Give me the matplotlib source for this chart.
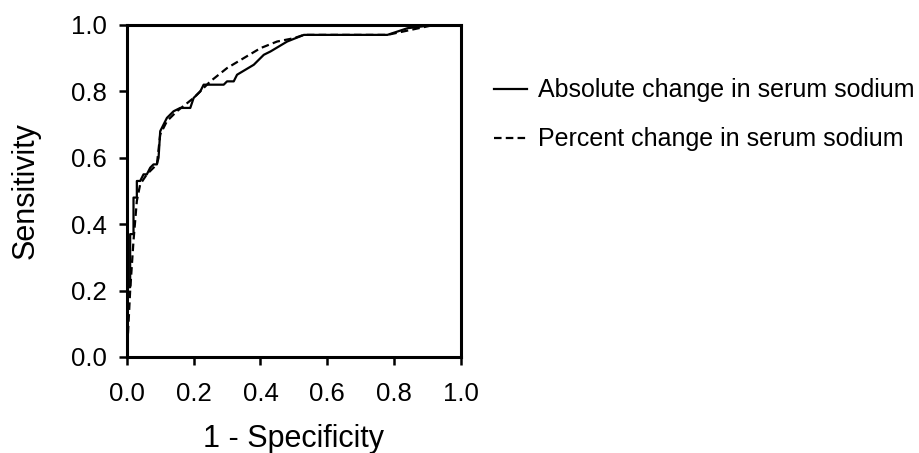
import matplotlib.pyplot as plt

plt.rcParams['font.family'] = ['Liberation Sans', 'DejaVu Sans']

# ROC curves
absFpr = [0.0, 0.0, 0.01, 0.01, 0.02, 0.02, 0.03, 0.03, 0.04, 0.045, 0.05, 0.06, 0.07, 0.08,
          0.09, 0.095, 0.10, 0.11, 0.12, 0.14, 0.16, 0.19, 0.20, 0.22, 0.23, 0.29, 0.30, 0.32,
          0.33, 0.38, 0.41, 0.43, 0.48, 0.53, 0.78, 0.84, 0.92, 1.0]
absTpr = [0.0, 0.21, 0.21, 0.37, 0.37, 0.48, 0.48, 0.53, 0.53, 0.54, 0.55, 0.55, 0.57, 0.58,
          0.58, 0.60, 0.68, 0.70, 0.72, 0.74, 0.75, 0.75, 0.78, 0.80, 0.82, 0.82, 0.83, 0.83,
          0.85, 0.88, 0.91, 0.92, 0.95, 0.97, 0.97, 0.99, 1.0, 1.0]

pctFpr = [0.0, 0.01, 0.02, 0.03, 0.04, 0.06, 0.09, 0.10, 0.12, 0.15, 0.20, 0.25, 0.30,
          0.35, 0.40, 0.45, 0.50, 0.53, 0.78, 0.92, 1.0]
pctTpr = [0.0, 0.20, 0.35, 0.47, 0.52, 0.55, 0.58, 0.67, 0.71, 0.74, 0.78, 0.83, 0.87,
          0.90, 0.93, 0.95, 0.96, 0.97, 0.97, 1.0, 1.0]

ticks = [0.0, 0.2, 0.4, 0.6, 0.8, 1.0]
tickLabels = ['0.0', '0.2', '0.4', '0.6', '0.8', '1.0']
labels = ['Absolute change in serum sodium', 'Percent change in serum sodium']

fig = plt.figure(figsize=(9.19, 4.53), dpi=100)
ax = fig.add_axes([0.138, 0.212, 0.3635, 0.733])

ax.plot(absFpr, absTpr, color='black', lw=1.6, linestyle='-', label=labels[0])
ax.plot(pctFpr, pctTpr, color='black', lw=1.6, linestyle=(0, (3.4, 1.9)), label=labels[1])

ax.set_xlim(0, 1)
ax.set_ylim(0, 1)
ax.set_xticks(ticks)
ax.set_yticks(ticks)
ax.set_xticklabels(tickLabels)
ax.set_yticklabels(tickLabels)
ax.tick_params(direction='out', length=5.5, width=1.8, labelsize=18.5, colors='black')
ax.tick_params(axis='x', pad=12.5)
ax.tick_params(axis='y', pad=9)
for s in ax.spines.values():
    s.set_linewidth(2.2)
    s.set_color('black')

ax.set_xlabel('1 - Specificity', fontsize=22, labelpad=13)
ax.set_ylabel('Sensitivity', fontsize=22, labelpad=22)

fig.legend(loc='upper left', bbox_to_anchor=(0.538, 0.827), frameon=False, fontsize=18,
           handlelength=1.3, handletextpad=0.45, labelspacing=1.0, borderaxespad=0,
           borderpad=0)

fig.savefig('out.png', dpi=100)
